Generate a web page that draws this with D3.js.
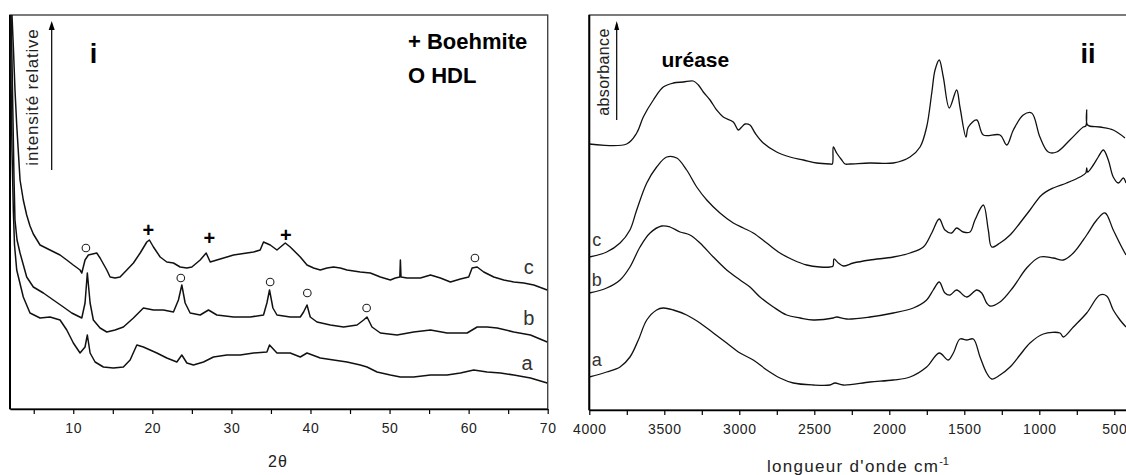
<!DOCTYPE html>
<html><head><meta charset="utf-8">
<script src="https://cdn.jsdelivr.net/npm/d3@7"></script>
<style>
html,body{margin:0;padding:0;background:#fff;}
svg{display:block;font-family:"Liberation Sans",Arial,sans-serif;}
</style></head>
<body><svg id="c" width="1126" height="475"></svg>
<script>
// ---------- Panel i : XRD (2θ, relative intensity) ----------
const xrdTicks = [10, 20, 30, 40, 50, 60, 70];
const xrdMinor = [5, 15, 25, 35, 45, 55, 65];
const xrdC = [[2.0,450],[2.25,394],[2.44,359],[2.63,319],[2.85,284],[3.27,229],[3.68,209],[4.11,194],[4.53,183],[4.95,175],[5.8,164],[7.06,159],[8.33,154],[9.18,149],[10.0,144],[10.86,139],[11.08,136],[11.49,149],[11.91,154],[12.97,156],[13.39,151],[14.24,139],[14.66,132],[15.29,131],[15.92,132],[16.77,139],[17.61,146],[18.46,156],[19.3,167],[19.63,169],[20.14,162],[20.99,152],[21.83,147],[22.67,146],[23.52,142],[24.37,141],[25.0,142],[26.05,149],[26.81,156],[27.32,147],[28.16,149],[29.43,152],[30.27,154],[31.96,156],[32.8,157],[33.64,159],[34.06,167],[34.91,164],[35.76,159],[36.81,166],[37.44,162],[38.71,152],[39.56,144],[40.39,141],[41.24,139],[42.09,141],[42.92,142],[43.77,141],[44.62,139],[46.3,137],[47.57,136],[48.84,132],[50.1,129],[50.73,131],[51.3,132],[51.37,149],[51.45,132],[52.22,131],[53.9,131],[55.18,134],[56.43,131],[57.7,127],[58.96,130],[60.01,132],[60.44,141],[61.08,142],[61.91,137],[63.18,132],[64.44,129],[65.71,127],[66.97,126],[68.24,124],[69.94,119]];
const xrdB = [[2.0,450],[2.13,394],[2.25,349],[2.38,289],[2.51,229],[2.63,189],[2.89,169],[3.27,156],[4.11,132],[4.95,122],[6.22,116],[7.48,109],[8.75,102],[9.81,96],[11.08,91],[11.49,106],[11.78,136],[12.13,106],[12.54,89],[13.39,81],[14.24,77],[15.29,79],[16.34,82],[17.61,91],[18.87,101],[20.14,99],[21.4,99],[22.67,97],[23.3,109],[23.73,124],[24.15,106],[24.78,96],[26.05,94],[27.1,99],[28.16,94],[30.27,92],[32.38,92],[34.06,94],[34.49,106],[34.82,119],[35.25,101],[35.76,94],[37.44,92],[38.71,92],[39.13,97],[39.56,104],[39.97,92],[40.82,87],[42.51,84],[44.19,82],[45.89,84],[46.72,89],[47.15,92],[47.78,82],[48.84,76],[50.95,74],[53.05,77],[55.18,79],[57.28,76],[59.81,76],[61.08,82],[62.34,82],[63.61,81],[65.71,77],[67.82,74],[69.94,67]];
const xrdA = [[2.0,450],[2.06,394],[2.13,329],[2.25,259],[2.42,199],[2.57,164],[2.85,139],[3.68,112],[4.53,96],[5.8,91],[7.06,92],[8.33,89],[9.18,79],[10.01,66],[10.86,56],[11.49,62],[11.78,74],[12.13,56],[12.76,47],[13.81,42],[15.08,41],[16.34,42],[17.19,49],[18.04,64],[18.87,62],[19.72,59],[20.57,56],[21.83,51],[23.1,47],[23.73,54],[24.37,46],[25.2,44],[26.47,47],[27.73,52],[29.43,54],[31.11,54],[32.8,56],[34.49,57],[34.82,64],[35.76,56],[37.44,56],[38.71,52],[39.56,56],[41.24,51],[42.92,49],[44.62,47],[46.3,44],[47.15,42],[48.42,37],[50.1,34],[51.37,32],[53.05,32],[55.18,34],[57.28,34],[58.96,36],[60.65,39],[62.34,37],[64.03,36],[65.71,34],[67.82,31],[69.94,26]];
const boehmiteMarks = [[19.5,179],[27.2,171],[36.9,174]];
const hdlMarks = [[11.6,161],[23.6,131],[34.9,127],[39.6,116],[47.1,101],[60.8,151]];
const xrdCurveLabels = ["a","b","c"];
const xrdLabelPos = [[67.4,46],[67.6,91],[67.6,142]];

// ---------- Panel ii : IR (wavenumber cm-1, absorbance) ----------
const irTicks = [4000, 3500, 3000, 2500, 2000, 1500, 1000, 500];
const irMinor = [3750, 3250, 2750, 2250, 1750, 1250, 750];
const irUrease = [[4000,266],[3751,266],[3684,277],[3640,293],[3573,310],[3507,323],[3440,327],[3373,328],[3307,329],[3273,325],[3240,318],[3195,310],[3151,300],[3107,293],[3040,288],[3007,280],[2984,283],[2962,286],[2929,285],[2895,277],[2840,267],[2751,258],[2662,253],[2573,250],[2484,247],[2396,246],[2380,246],[2373,263],[2351,257],[2317,250],[2295,246],[2262,246],[2129,247],[1973,247],[1862,253],[1795,263],[1751,283],[1717,317],[1695,340],[1667,350],[1640,333],[1600,302],[1551,320],[1529,303],[1489,273],[1473,283],[1417,290],[1373,275],[1262,275],[1217,265],[1173,280],[1107,295],[1051,297],[996,273],[940,258],[884,258],[796,270],[707,283],[690,284],[684,300],[678,285],[596,283],[507,280],[429,272]];
const irC = [[4000,153],[3884,158],[3795,167],[3729,180],[3684,200],[3617,227],[3551,243],[3484,253],[3417,252],[3351,240],[3284,223],[3217,210],[3129,197],[3040,187],[2973,182],[2907,177],[2817,167],[2729,157],[2640,150],[2551,145],[2462,143],[2396,143],[2375,144],[2369,151],[2340,147],[2307,144],[2240,147],[2129,150],[1973,153],[1862,157],[1773,163],[1717,177],[1667,191],[1629,180],[1584,177],[1551,182],[1507,178],[1462,178],[1429,190],[1373,205],[1340,180],[1317,163],[1262,167],[1195,175],[1129,187],[1062,200],[984,215],[907,222],[818,227],[729,233],[690,237],[684,242],[678,238],[640,245],[607,253],[573,260],[540,250],[507,233],[473,227],[440,232],[422,227]];
const irB = [[4000,117],[3884,122],[3795,130],[3729,143],[3662,163],[3595,177],[3517,184],[3462,183],[3395,178],[3329,175],[3262,167],[3173,153],[3084,140],[2995,130],[2929,123],[2862,113],[2773,103],[2684,95],[2595,92],[2507,90],[2373,92],[2351,93],[2284,91],[2129,93],[1973,97],[1840,102],[1751,110],[1707,120],[1667,128],[1629,117],[1595,115],[1551,120],[1484,113],[1417,120],[1384,117],[1351,107],[1329,104],[1262,108],[1173,123],[1084,142],[996,153],[907,152],[840,150],[773,157],[684,175],[617,190],[562,197],[507,180],[451,163],[422,155]];
const irA = [[4000,33],[3884,38],[3795,43],[3729,53],[3673,70],[3617,90],[3551,100],[3507,102],[3440,100],[3351,95],[3262,87],[3173,77],[3084,67],[2995,57],[2907,50],[2817,40],[2729,32],[2640,27],[2507,25],[2396,25],[2362,27],[2307,25],[2129,28],[1973,30],[1862,33],[1751,43],[1667,57],[1607,50],[1573,57],[1529,71],[1484,70],[1440,71],[1395,53],[1351,37],[1317,31],[1262,35],[1195,43],[1129,55],[1062,67],[973,76],[862,77],[840,73],[773,83],[684,97],[596,115],[551,114],[507,100],[462,90],[422,83]];
const irCurveLabels = ["a","b","c"];
const irLabelPos = [[3950,50],[3950,130],[3950,170]];

// ---------- drawing ----------
const svg = d3.select("#c");
const ink = "#111";

function panel(opts){
  const {x, y, id} = opts;
  const g = svg.append("g");
  const [x0,x1] = x.range(), [y0,y1] = y.range();
  g.append("clipPath").attr("id", id).append("rect")
    .attr("x", Math.min(x0,x1)).attr("y", y1).attr("width", Math.abs(x1-x0)).attr("height", y0-y1);
  g.append("rect").attr("x", Math.min(x0,x1)).attr("y", y1)
    .attr("width", Math.abs(x1-x0)).attr("height", y0-y1)
    .attr("fill","none").attr("stroke","#444").attr("stroke-width",1.4);
  g.append("line").attr("x1",x0).attr("x2",x0).attr("y1",y1).attr("y2",y0)
    .attr("stroke","#000").attr("stroke-width",2);
  const ax = g.append("g").attr("transform",`translate(0,${y0})`)
    .call(d3.axisBottom(x).tickValues(opts.ticks).tickSize(5).tickSizeOuter(0).tickPadding(9).tickFormat(d3.format("d")));
  ax.select(".domain").attr("stroke","#000").attr("stroke-width",1.6);
  ax.selectAll(".tick line").attr("stroke","#000").attr("stroke-width",1.2);
  ax.selectAll(".tick text").attr("font-size",14).attr("fill","#222")
    .attr("letter-spacing","0.6px").attr("font-family","Liberation Sans, Arial, sans-serif");
  const mn = g.append("g").attr("transform",`translate(0,${y0})`)
    .call(d3.axisBottom(x).tickValues(opts.minor).tickSize(5).tickSizeOuter(0).tickFormat(""));
  mn.select(".domain").remove();
  mn.selectAll(".tick line").attr("stroke","#000").attr("stroke-width",1.2);
  const line = d3.line().x(d=>x(d[0])).y(d=>y(d[1])).curve(opts.curve);
  const cg = g.append("g").attr("clip-path",`url(#${id})`);
  opts.series.forEach(s=>{
    cg.append("path").datum(s).attr("d",line).attr("fill","none")
      .attr("stroke",ink).attr("stroke-width",opts.sw).attr("stroke-linejoin","round");
  });
  return g;
}

const xX = d3.scaleLinear().domain([2,70]).range([10,547.7]);
const xY = d3.scaleLinear().domain([0,394]).range([409,15]);
const g1 = panel({x:xX, y:xY, id:"clip1", ticks:xrdTicks, minor:xrdMinor, series:[xrdA,xrdB,xrdC], sw:1.5, curve:d3.curveLinear});

const iX = d3.scaleLinear().domain([4000,400]).range([589.3,1129.3]);
const iY = d3.scaleLinear().domain([0,395]).range([410,15]);
const g2 = panel({x:iX, y:iY, id:"clip2", ticks:irTicks, minor:irMinor, series:[irA,irB,irC,irUrease], sw:1.3, curve:d3.curveCatmullRom.alpha(0.5)});

g1.selectAll(".bm").data(boehmiteMarks).join("text")
  .attr("x",d=>xX(d[0])).attr("y",d=>xY(d[1])).attr("text-anchor","middle").attr("dominant-baseline","central")
  .attr("font-size",20).attr("font-weight","bold").attr("fill","#000").text("+");
g1.selectAll(".hm").data(hdlMarks).join("circle")
  .attr("cx",d=>xX(d[0])).attr("cy",d=>xY(d[1])).attr("r",3.8)
  .attr("fill","none").attr("stroke","#222").attr("stroke-width",1.1);

g1.selectAll(".cl").data(xrdCurveLabels).join("text")
  .attr("x",(d,i)=>xX(xrdLabelPos[i][0])).attr("y",(d,i)=>xY(xrdLabelPos[i][1]))
  .attr("text-anchor","middle").attr("dominant-baseline","central")
  .attr("font-size",20).attr("fill","#333").text(d=>d);
g2.selectAll(".cl").data(irCurveLabels).join("text")
  .attr("x",(d,i)=>iX(irLabelPos[i][0])).attr("y",(d,i)=>iY(irLabelPos[i][1]))
  .attr("text-anchor","middle").attr("dominant-baseline","central")
  .attr("font-size",18).attr("fill","#333").text(d=>d);

svg.append("line").attr("x1",51.7).attr("x2",51.7).attr("y1",170).attr("y2",24)
  .attr("stroke","#000").attr("stroke-width",1.2);
svg.append("path").attr("d","M48.7,30 L51.7,21 L54.7,30 Z").attr("fill","#000");
svg.append("text").attr("transform","translate(38,97) rotate(-90)").attr("text-anchor","middle")
  .attr("font-size",17).attr("letter-spacing","0.8px").attr("fill","#222").text("intensité relative");

svg.append("line").attr("x1",616.7).attr("x2",616.7).attr("y1",120).attr("y2",24)
  .attr("stroke","#000").attr("stroke-width",1.2);
svg.append("path").attr("d","M614.2,30 L616.7,21 L619.2,30 Z").attr("fill","#000");
svg.append("text").attr("transform","translate(609,72) rotate(-90)").attr("text-anchor","middle")
  .attr("font-size",16).attr("letter-spacing","0.4px").attr("fill","#222").text("absorbance");

svg.append("text").attr("x",93.5).attr("y",63).attr("text-anchor","middle")
  .attr("font-size",27).attr("font-weight","bold").attr("fill","#000").text("i");
svg.append("text").attr("x",408).attr("y",49).attr("font-size",22).attr("font-weight","bold").attr("fill","#000").text("+ Boehmite");
svg.append("text").attr("x",408).attr("y",83).attr("font-size",22).attr("font-weight","bold").attr("fill","#000").text("O HDL");
svg.append("text").attr("x",661.5).attr("y",67).attr("font-size",21).attr("font-weight","bold").attr("fill","#000").text("uréase");
svg.append("text").attr("x",1088).attr("y",63).attr("text-anchor","middle")
  .attr("font-size",27).attr("font-weight","bold").attr("fill","#000").text("ii");

svg.append("text").attr("x",278).attr("y",467).attr("text-anchor","middle")
  .attr("font-size",16).attr("fill","#222").attr("letter-spacing","1px").text("2θ");
const xt = svg.append("text").attr("x",767).attr("y",472)
  .attr("font-size",17).attr("fill","#222").attr("letter-spacing","1.3px");
xt.append("tspan").text("longueur d'onde cm");
xt.append("tspan").attr("dy",-7).attr("font-size",11).attr("letter-spacing","0px").text("-1");
</script></body></html>
